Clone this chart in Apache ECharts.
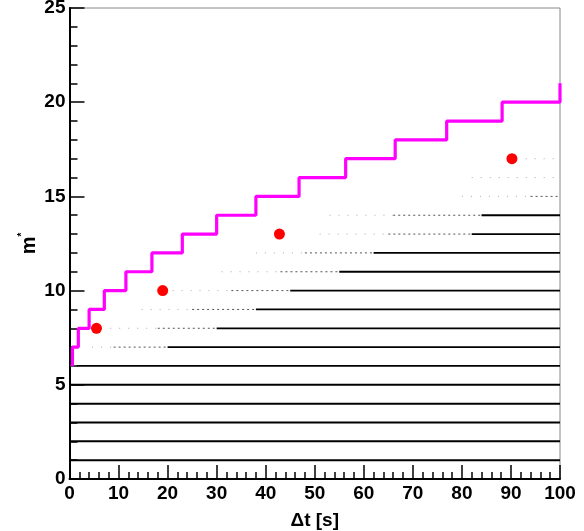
<!DOCTYPE html>
<html>
<head>
<meta charset="utf-8">
<script src="https://cdn.jsdelivr.net/npm/echarts@6/dist/echarts.min.js"></script>
<style>html,body{margin:0;padding:0;background:#fff;}#c{width:584px;height:531px;}</style>
</head>
<body>
<div id="c"></div>
<script>
// step boundary: x where the magenta step line rises from level k to k+1
var stepStartLevel = 6;
var stepX = [0.6, 1.8, 4.0, 7.1, 11.5, 16.8, 23.0, 30.0, 38.0, 46.8, 56.3, 66.4, 76.9, 88.2, 100];
// red markers
var markX = [5.5, 19.0, 42.8, 90.2];
var markY = [8, 10, 13, 17];
// horizontal bands of points at integer m*: start of sparse, medium and dense parts
var rowM      = [1, 2, 3, 4, 5, 6,   7,   8,   9,    10, 11, 12, 13, 14, 15,  16,  17];
var rowSparse = [0, 0, 0, 0, 0, 0.2, 4.6, 8.3, 14.7, 21, 31, 38, 51, 53, 80,  82,  93];
var rowMedium = [0, 0, 0, 0, 0, 0.5, 9,   18,  25,   33, 43, 48, 65, 66, 94,  100, 100];
var rowDense  = [0, 0, 0, 0, 0, 1.5, 20,  30,  38,   45, 55, 62, 82, 84, 100, 100, 100];

var series = [];
function seg(x1, x2, y, style) {
  if (x2 <= x1) return;
  series.push({
    type: 'line', silent: true, symbol: 'none', animation: false, z: 2,
    data: [[x1, y], [x2, y]], lineStyle: style
  });
}
for (var i = 0; i < rowM.length; i++) {
  var m = rowM[i];
  if (m <= 5) {
    seg(0, 100, m, {color: '#000', width: 2});
    continue;
  }
  seg(rowSparse[i], rowMedium[i], m, {color: '#aaa', width: 1, type: [1, 8]});
  seg(rowMedium[i], rowDense[i], m, {color: '#555', width: 1, type: [2, 3]});
  seg(rowDense[i], 100, m, {color: '#000', width: 1.8});
}

var stepPts = [];
var lvl = stepStartLevel;
for (var j = 0; j < stepX.length; j++) {
  stepPts.push([stepX[j], lvl]);
  lvl += 1;
  stepPts.push([stepX[j], lvl]);
}
series.push({
  type: 'line', silent: true, symbol: 'none', animation: false, z: 5,
  data: stepPts, lineStyle: {color: '#ff00ff', width: 3.2}
});
series.push({
  type: 'scatter', silent: true, animation: false, z: 6, symbolSize: 11,
  itemStyle: {color: '#ff0000', opacity: 1},
  data: markX.map(function (x, k) { return [x, markY[k]]; })
});

var font = 'Liberation Sans, Arial, Helvetica, sans-serif';
var chart = echarts.init(document.getElementById('c'), null, {renderer: 'canvas'});
chart.setOption({
  animation: false,
  grid: {left: 69.5, right: 24, top: 8, bottom: 52, outerBoundsMode: 'none', containLabel: false,
         show: true, borderColor: '#888', borderWidth: 1, backgroundColor: 'transparent'},
  xAxis: {
    type: 'value', min: 0, max: 100, interval: 10,
    name: 'Δt [s]', nameLocation: 'middle', nameGap: 32, nameMoveOverlap: false,
    nameTextStyle: {fontFamily: font, fontWeight: 'bold', fontSize: 19, color: '#000'},
    axisLine: {show: true, onZero: false, lineStyle: {color: '#000', width: 2}},
    axisTick: {show: true, inside: true, length: 14, lineStyle: {color: '#000', width: 1.5}},
    minorTick: {show: true, splitNumber: 5, length: 7, lineStyle: {color: '#000', width: 1.5}},
    splitLine: {show: false},
    axisLabel: {fontFamily: font, fontWeight: 'bold', fontSize: 19, color: '#000', margin: 5}
  },
  yAxis: {
    type: 'value', min: 0, max: 25, interval: 5,
    name: '{a|m}{b|*}', nameLocation: 'middle', nameGap: 28, nameRotate: 90, nameMoveOverlap: false,
    nameTextStyle: {
      fontFamily: font, fontWeight: 'bold', fontSize: 19, color: '#000',
      rich: {
        a: {fontFamily: font, fontWeight: 'bold', fontSize: 20, color: '#000'},
        b: {fontFamily: font, fontWeight: 'bold', fontSize: 10, color: '#000', verticalAlign: 'top', padding: [0, 0, 14, 0]}
      }
    },
    axisLine: {show: true, onZero: false, lineStyle: {color: '#000', width: 2}},
    axisTick: {show: true, inside: true, length: 15, lineStyle: {color: '#000', width: 1.5}},
    minorTick: {show: true, splitNumber: 5, length: 8, lineStyle: {color: '#000', width: 1.5}},
    splitLine: {show: false},
    axisLabel: {fontFamily: font, fontWeight: 'bold', fontSize: 19, color: '#000', margin: 4}
  },
  series: series
});
</script>
</body>
</html>
